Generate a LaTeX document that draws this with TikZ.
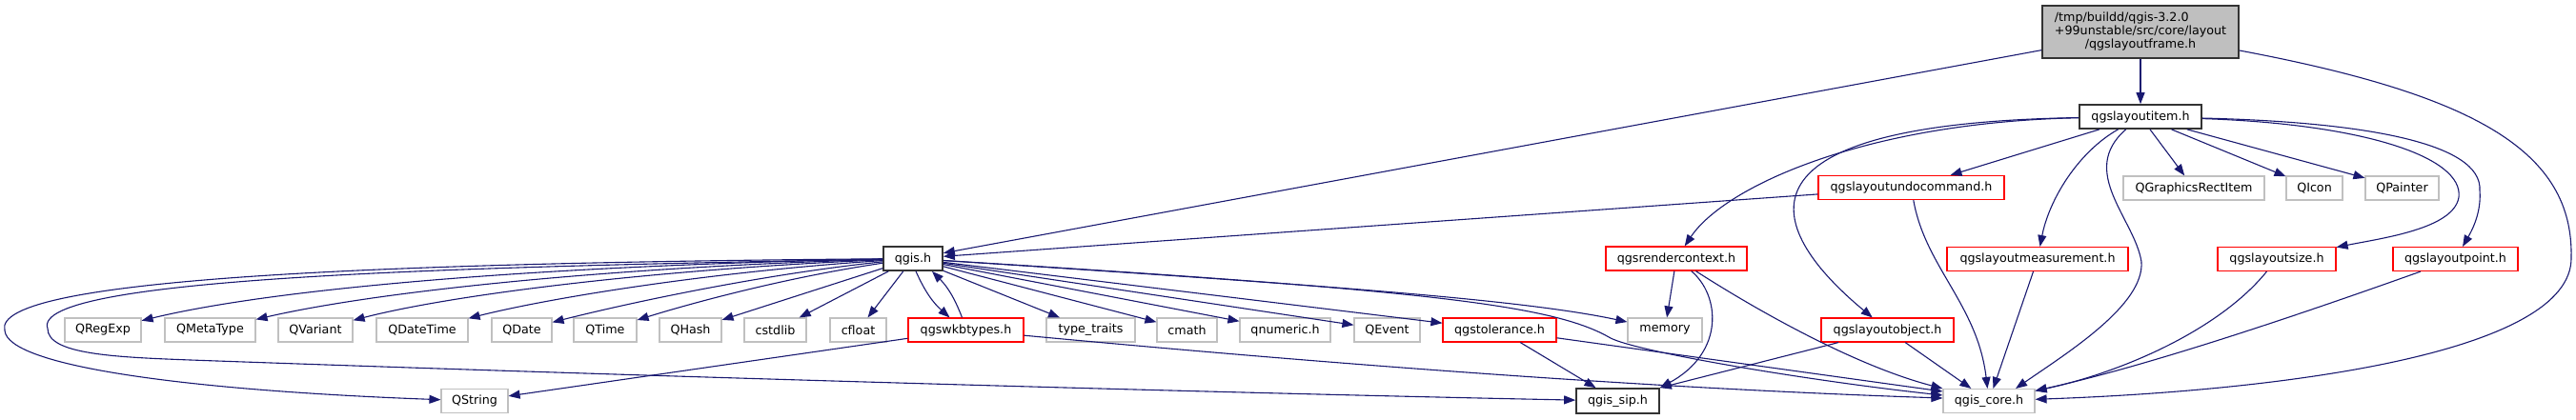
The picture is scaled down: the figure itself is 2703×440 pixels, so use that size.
\documentclass[tikz,border=0pt]{standalone}
\usepackage{fontspec}
\setmainfont{DejaVu Sans}
\usetikzlibrary{arrows.meta,calc}
\definecolor{edgeblue}{HTML}{191970}
\definecolor{extgray}{HTML}{C0C0C0}
\definecolor{topfill}{HTML}{BFBFBF}
\definecolor{incred}{HTML}{FF0000}
\begin{document}
\begin{tikzpicture}[x=1pt,y=-1pt,
  base/.style={rectangle, draw, minimum height=25pt, inner sep=0pt, line width=1.15pt,
    font=\fontsize{12.7}{14.2}\selectfont},
  extb/.style={base, draw=extgray},
  redb/.style={base, draw=incred},
  blk/.style={base, draw=black!80, line width=1.7pt},
  edge/.style={draw=edgeblue, line width=1.1pt, -{Triangle[length=12pt,width=9pt]}}]
\useasboundingbox (0,0) rectangle (2703,440);
% nodes
\node[blk, fill=topfill, minimum width=206pt, minimum height=55pt] (T) at (2246,33.5)
  {\begin{tabular}{@{}l@{}}/tmp/buildd/qgis-3.2.0\\+99unstable/src/core/layout\\\multicolumn{1}{@{}c@{}}{/qgslayoutframe.h}\end{tabular}};
\node[blk, minimum width=128pt] (LI) at (2246,122.5) {qgslayoutitem.h};
\node[redb, minimum width=195pt] (undo) at (2005.5,197) {qgslayoutundocommand.h};
\node[extb, minimum width=148pt] (qgri) at (2302,197.5) {QGraphicsRectItem};
\node[extb, minimum width=59pt] (qicon) at (2428.5,197.5) {QIcon};
\node[extb, minimum width=77pt] (qpainter) at (2520.5,197.5) {QPainter};
\node[redb, minimum width=148pt] (rc) at (1759,271.5) {qgsrendercontext.h};
\node[blk, minimum width=62pt] (qgis) at (958,271.5) {qgis.h};
\node[redb, minimum width=190pt] (meas) at (2138,272) {qgslayoutmeasurement.h};
\node[redb, minimum width=124pt] (size) at (2389,272) {qgslayoutsize.h};
\node[redb, minimum width=131pt] (point) at (2576.5,272) {qgslayoutpoint.h};
\node[extb, minimum width=80pt] (qregexp) at (108,346.5) {QRegExp};
\node[extb, minimum width=95pt] (qmetatype) at (220.5,346.5) {QMetaType};
\node[extb, minimum width=78pt] (qvariant) at (331,346.5) {QVariant};
\node[extb, minimum width=96pt] (qdatetime) at (443,346.5) {QDateTime};
\node[extb, minimum width=63pt] (qdate) at (547.5,346.5) {QDate};
\node[extb, minimum width=66pt] (qtime) at (635,346.5) {QTime};
\node[extb, minimum width=65pt] (qhash) at (724.5,346.5) {QHash};
\node[extb, minimum width=65pt] (cstdlib) at (813.5,346.5) {cstdlib};
\node[extb, minimum width=59pt] (cfloat) at (900.5,346.5) {cfloat};
\node[redb, minimum width=121pt] (wkb) at (1013.5,346.5) {qgswkbtypes.h};
\node[extb, minimum width=93pt] (typetraits) at (1144.5,346.5) {type\_traits};
\node[extb, minimum width=63pt] (cmath) at (1245.5,346.5) {cmath};
\node[extb, minimum width=95pt] (qnumeric) at (1348.5,346.5) {qnumeric.h};
\node[extb, minimum width=69pt] (qevent) at (1455.5,346.5) {QEvent};
\node[redb, minimum width=119pt] (tol) at (1573.5,346.5) {qgstolerance.h};
\node[extb, minimum width=78pt] (memory) at (1747,346.5) {memory};
\node[redb, minimum width=139pt] (lo) at (1980.5,346.5) {qgslayoutobject.h};
\node[extb, minimum width=70pt] (qstring) at (498,421) {QString};
\node[blk, minimum width=87pt, minimum height=26pt] (sip) at (1697.5,421) {qgis\_sip.h};
\node[extb, minimum width=96pt] (core) at (2087,421) {qgis\_core.h};
% edges from the top file
\draw[edge] (T) -- (LI);
\draw[edge] (T) -- (qgis);
\draw[edge] (T) .. controls (2600,100) and (2700,160) .. (2698,270) .. controls (2700,370) and (2400,410) .. (core);
% edges from qgslayoutitem.h
\draw[edge] ($(LI.south)+(-43,0)$) -- ($(undo.north)+(41,0)$);
\draw[edge] (LI) .. controls (1960,128) and (1810,195) .. (rc);
\draw[edge] (LI) .. controls (1780,130) and (1870,255) .. (lo);
\draw[edge] (LI) .. controls (2180,160) and (2150,210) .. (meas);
\draw[edge] (LI) .. controls (2180,180) and (2240,230) .. (2247,275) .. controls (2250,320) and (2170,370) .. ($(core.north)+(28,0)$);
\draw[edge] (LI) -- (qgri);
\draw[edge] (LI) -- (qicon);
\draw[edge] (LI) -- (qpainter);
\draw[edge] (LI) .. controls (2480,130) and (2585,165) .. (2580,207) .. controls (2575,240) and (2500,250) .. (size);
\draw[edge] (LI) .. controls (2480,128) and (2605,150) .. (2602,200) .. controls (2604,225) and (2592,245) .. (point);
% second level
\draw[edge] (undo) -- (qgis);
\draw[edge] (undo) .. controls (2020,280) and (2075,320) .. (core);
\draw[edge] (meas) -- (core);
\draw[edge] (size) .. controls (2330,345) and (2230,390) .. (core);
\draw[edge] (point) .. controls (2400,335) and (2250,385) .. (core);
\draw[edge] (lo) -- (core);
\draw[edge] (lo) -- (sip.north east);
\draw[edge] (rc) -- (memory);
\draw[edge] (rc) .. controls (1805,310) and (1810,370) .. (sip.north east);
\draw[edge] (rc) .. controls (1850,330) and (1950,385) .. (core.north west);
\draw[edge] (tol) -- (sip);
\draw[edge] (tol) -- ($(core.west)+(0,-10)$);
\draw[edge] ($(wkb.north)+(-4,0)$) to[bend right=12] ($(qgis.south)+(20,0)$);
\draw[edge] ($(qgis.south)+(3,0)$) to[bend right=12] ($(wkb.north)+(-17,0)$);
\draw[edge] (wkb) -- (qstring);
\draw[edge] (wkb) .. controls (1500,392) and (1800,410) .. ($(core.west)+(0,-3)$);
% edges from qgis.h
\draw[edge] (qgis) .. controls (600,278) and (300,300) .. (qregexp);
\draw[edge] (qgis) .. controls (650,280) and (400,305) .. (qmetatype);
\draw[edge] (qgis) .. controls (700,282) and (480,308) .. (qvariant);
\draw[edge] (qgis) .. controls (750,285) and (580,312) .. (qdatetime);
\draw[edge] (qgis) .. controls (800,288) and (660,318) .. (qdate);
\draw[edge] (qgis) .. controls (820,292) and (720,320) .. (qtime);
\draw[edge] (qgis) -- (qhash);
\draw[edge] (qgis) -- (cstdlib);
\draw[edge] (qgis) -- (cfloat);
\draw[edge] (qgis) -- (typetraits);
\draw[edge] (qgis) -- (cmath);
\draw[edge] (qgis) -- (qnumeric);
\draw[edge] (qgis) -- (qevent);
\draw[edge] (qgis) -- (tol);
\draw[edge] (qgis) .. controls (1400,300) and (1600,315) .. (memory);
\draw[edge] (qgis) .. controls (1500,305) and (1630,320) .. (1690,355) .. controls (1720,370) and (1900,400) .. ($(core.west)+(0,-6)$);
\draw[edge] (qgis) .. controls (500,280) and (30,290) .. (50,345) .. controls (50,372) and (120,375) .. (200,378) .. controls (700,396) and (1300,413) .. (sip);
\draw[edge] (qgis) .. controls (400,276) and (-10,292) .. (5,347) .. controls (8,385) and (200,410) .. (qstring);
\end{tikzpicture}
\end{document}
